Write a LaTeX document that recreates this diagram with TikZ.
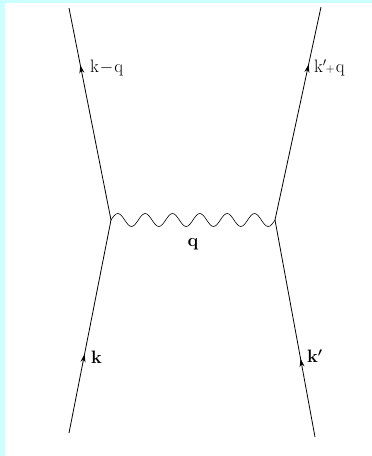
\documentclass[tikz,border=0pt]{standalone}
\usepackage{amsmath}
\usepackage{xcolor}
\usepackage{tikz}
\usetikzlibrary{positioning,decorations.markings,arrows.meta}

\definecolor{frame}{HTML}{CCFFFF}

\tikzset{
    fermion/.style={thick, postaction={decorate},
        decoration={markings, mark=at position #1 with {\arrow{Stealth[length=8pt,width=5pt]}}}},
    photon/.style={semithick},
    lbl/.style={font=\fontsize{18}{20}\selectfont, inner sep=1pt}
}

\begin{document}
\begin{tikzpicture}[x=1pt,y=-1pt]

        % Background and margins
        \fill[frame] (0,0) rectangle (372,456);
        \fill[white] (5,3) rectangle (372,456);
        \useasboundingbox (0,0) rectangle (372,456);

        % Vertices and free ends
        \coordinate (vl) at (111,220);
        \coordinate (vr) at (275,220);
        \coordinate (inl) at (69,433);
        \coordinate (inr) at (315,437);
        \coordinate (outl) at (69,8);
        \coordinate (outr) at (321,7);

        % Fermion lines
        \draw[fermion=0.37] (inl) -- (vl);
        \draw[fermion=0.73] (vl) -- (outl);
        \draw[fermion=0.36] (inr) -- (vr);
        \draw[fermion=0.73] (vr) -- (outr);

        % Exchanged photon (six waves from vertex to vertex)
        \draw[photon] (vl)
            \foreach \i in {1,...,6} {
                sin ++(6.8333,-6.5) cos ++(6.8333,6.5)
                sin ++(6.8333,6.5) cos ++(6.8333,-6.5)
            } -- (vr);

        % Labels
        \node[lbl, anchor=west] (kq) at (89,68) {k\kern1pt$-$\kern1pt q};
        \node[lbl, anchor=west] (kpq) at (313,68) {k$'$\kern-1pt{\fontsize{12}{12}\selectfont+}\kern1pt q};
        \node[lbl, anchor=west] (k) at (90,357) {\textbf{k}};
        \node[lbl, anchor=west] (kp) at (306,356) {\textbf{k}$\boldsymbol{'}$};
        \node[lbl] (q) at (193,244) {\textbf{q}};

    \end{tikzpicture}
\end{document}
